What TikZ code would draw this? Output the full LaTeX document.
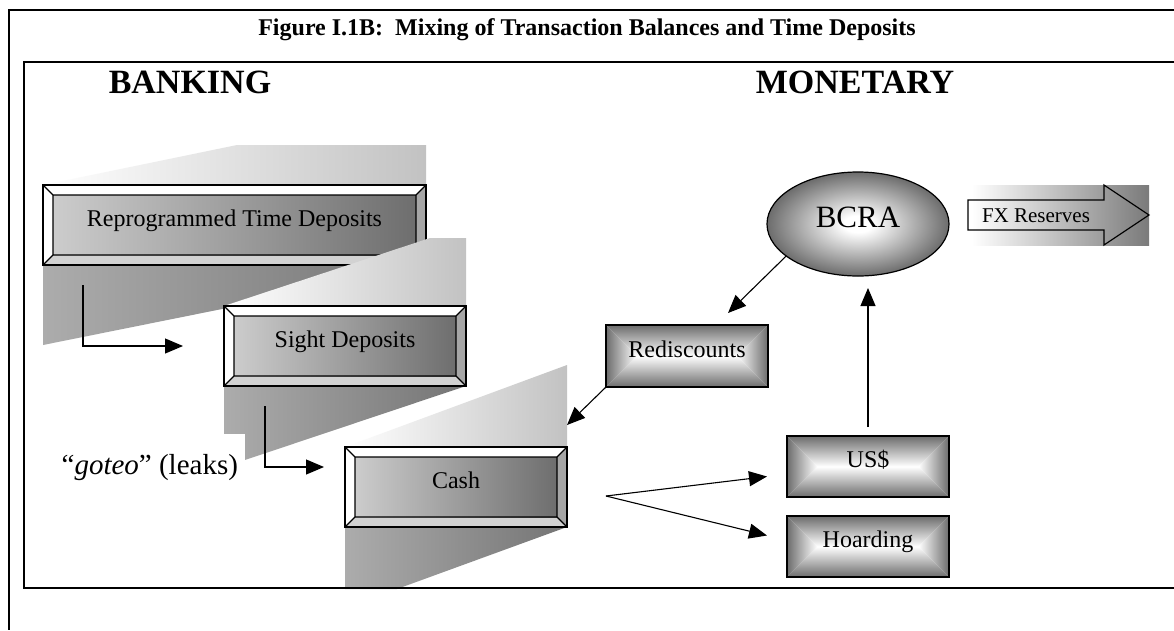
\documentclass[tikz,border=0pt]{standalone}
\usepackage{fontspec}
\setmainfont{Liberation Serif}
\usetikzlibrary{arrows.meta,calc,shapes.geometric}

\definecolor{facel}{HTML}{CCCCCC}
\definecolor{facer}{HTML}{6E6E6E}
\definecolor{bevbot}{HTML}{D2D2D2}
\definecolor{bevright}{HTML}{A6A6A6}
\definecolor{boxgrey}{HTML}{6C6C6C}
\definecolor{extl}{HTML}{ACACAC}
\definecolor{extr}{HTML}{747474}
\definecolor{topr}{HTML}{C2C2C2}
\definecolor{fxr}{HTML}{7A7A7A}

\pgfdeclareradialshading{bcrashade}{\pgfpointorigin}{color(0bp)=(white); color(4bp)=(white); color(25bp)=(boxgrey); color(50bp)=(boxgrey)}

\newcommand\bevelface[5]{%
  \pgfmathsetmacro\bxa{#1+#5}\pgfmathsetmacro\bya{#2+#5}%
  \pgfmathsetmacro\bxb{#3-#5}\pgfmathsetmacro\byb{#4-#5}%
  \fill[white] (#1,#2) -- (#3,#2) -- (\bxb,\bya) -- (\bxa,\bya) -- cycle;
  \fill[white] (#1,#2) -- (\bxa,\bya) -- (\bxa,\byb) -- (#1,#4) -- cycle;
  \fill[bevbot] (#1,#4) -- (\bxa,\byb) -- (\bxb,\byb) -- (#3,#4) -- cycle;
  \fill[bevright] (#3,#2) -- (#3,#4) -- (\bxb,\byb) -- (\bxb,\bya) -- cycle;
  \shade[left color=facel,right color=facer] (\bxa,\bya) rectangle (\bxb,\byb);
  \draw[line width=1.2pt] (\bxa,\bya) rectangle (\bxb,\byb)
    (#1,#2) -- (\bxa,\bya) (#3,#2) -- (\bxb,\bya)
    (#1,#4) -- (\bxa,\byb) (#3,#4) -- (\bxb,\byb);
}

\newcommand\rectgrad[4]{%
  \pgfmathsetmacro\hh{(#4-#2)/2}%
  \pgfmathsetmacro\ym{(#2+#4)/2}%
  \pgfmathsetmacro\xl{#1+\hh}\pgfmathsetmacro\xr{#3-\hh}%
  \shade[top color=boxgrey,bottom color=white] (#1,#2) -- (#3,#2) -- (\xr,\ym) -- (\xl,\ym) -- cycle;
  \shade[top color=white,bottom color=boxgrey] (#1,#4) -- (#3,#4) -- (\xr,\ym) -- (\xl,\ym) -- cycle;
  \shade[left color=boxgrey,right color=white] (#1,#2) -- (#1,#4) -- (\xl,\ym) -- cycle;
  \shade[left color=white,right color=boxgrey] (#3,#2) -- (#3,#4) -- (\xr,\ym) -- cycle;
}

\tikzset{
  boxtext/.style={font=\fontsize{24}{28}\selectfont,text height=17pt,text depth=15pt},
  bevnode/.style={draw,line width=1.2pt,inner sep=0pt,outer sep=0pt,boxtext},
  gradnode/.style={draw,line width=1.2pt,inner sep=0pt,outer sep=0pt,minimum width=162pt,boxtext},
  arr/.style={line width=1.1pt,-{Triangle[length=18pt,width=15pt]}},
  head/.style={anchor=base,font=\bfseries\fontsize{34}{40}\selectfont},
}

\begin{document}
\begin{tikzpicture}[x=1pt,y=-1pt]
\useasboundingbox (0,0) rectangle (1174,630);
\fill[white] (0,0) rectangle (1174,630);

% titles
\node[anchor=base,font=\bfseries\fontsize{24}{28}\selectfont] (title) at (587,35) {Figure I.1B:\ \ Mixing of Transaction Balances and Time Deposits};
\node[head] (banking) at (190,93) {BANKING};
\node[head] (monetary) at (855,93) {MONETARY};

% ---- Reprogrammed Time Deposits
\shade[left color=white,right color=topr] (43,185) -- (237,145) -- (426,145) -- (426,185) -- cycle;
\shade[left color=extl,right color=extr] (43,265) -- (426,265) -- (426,268) -- (43,345) -- cycle;
\bevelface{43}{185}{426}{265}{10}
\node[bevnode,minimum width=383pt,minimum height=80pt] (rtd) at (234.5,225) {Reprogrammed Time Deposits};

% ---- Sight Deposits
\shade[left color=white,right color=topr] (224,306) -- (430,238) -- (466,238) -- (466,306) -- cycle;
\shade[left color=extl,right color=extr] (224,386) -- (466,386) -- (224,467) -- cycle;
\bevelface{224}{306}{466}{386}{10}
\node[bevnode,minimum width=242pt,minimum height=80pt] (sight) at (345,346) {Sight Deposits};

% ---- Cash
\shade[left color=white,right color=topr] (345,447) -- (567,365) -- (567,447) -- cycle;
\shade[left color=extl,right color=extr] (345,527) -- (567,527) -- (397,589) -- (345,589) -- cycle;
\bevelface{345}{447}{567}{527}{10}
\node[bevnode,minimum width=222pt,minimum height=80pt] (cash) at (456,487) {Cash};

% goteo label
\node[fill=white,anchor=north east,minimum width=190pt,minimum height=66pt,inner sep=0pt,font=\fontsize{29}{34}\selectfont] (goteo) at (245,434) {“\textit{goteo}” (leaks)};

% ---- right side boxes
\rectgrad{606}{325}{768}{387}
\node[gradnode,minimum height=62pt] (redis) at (687,356) {Rediscounts};
\rectgrad{787}{436}{949}{497}
\node[gradnode,minimum height=61pt] (usd) at (868,466.5) {US\$};
\rectgrad{787}{516}{949}{577}
\node[gradnode,minimum height=61pt] (hoard) at (868,546.5) {Hoarding};

\node[ellipse,draw,line width=1.2pt,inner sep=0pt,outer sep=0pt,minimum width=182pt,minimum height=104pt,shade,shading=bcrashade,font=\fontsize{31}{36}\selectfont,text height=21pt,text depth=15pt] (bcra) at (858,224) {BCRA};

% FX reserves arrow
\shade[left color=white,right color=fxr] (972,185) rectangle (1149,245);
\draw[line width=1.2pt] (968,200) -- (1104,200) -- (1104,185) -- (1149,215) -- (1104,245) -- (1104,230) -- (968,230) -- cycle;
\node[font=\fontsize{21}{25}\selectfont,inner sep=0pt] (fx) at (1036,216) {FX Reserves};

% ---- connectors
\coordinate (a1s) at (83,285);
\draw[arr] (a1s) |- ([xshift=-41pt]sight.west);
\coordinate (a2s) at (265,406);
\draw[arr] (a2s) |- ([xshift=-21pt,yshift=20pt]cash.west);
\draw[arr] (bcra.204) -- ([xshift=-40pt,yshift=12pt]redis.north east);
\draw[arr] (redis.south west) -- ([yshift=22pt]cash.north east);
\draw[arr] ([yshift=9pt]usd.north) -- ($(usd.north |- bcra.south)+(0,-12pt)$);
\coordinate (fork) at ([xshift=39pt,yshift=-9pt]cash.east);
\draw[arr] (fork) -- ([xshift=-20pt,yshift=-10pt]usd.west);
\draw[arr] (fork) -- ([xshift=-20pt,yshift=11pt]hoard.west);

% ---- frames
\draw[line width=2pt] (1174,10) -- (9,10) -- (9,630);
\draw[line width=1.5pt] (1174,62) -- (24,62) -- (24,588) -- (1174,588);
\end{tikzpicture}
\end{document}
